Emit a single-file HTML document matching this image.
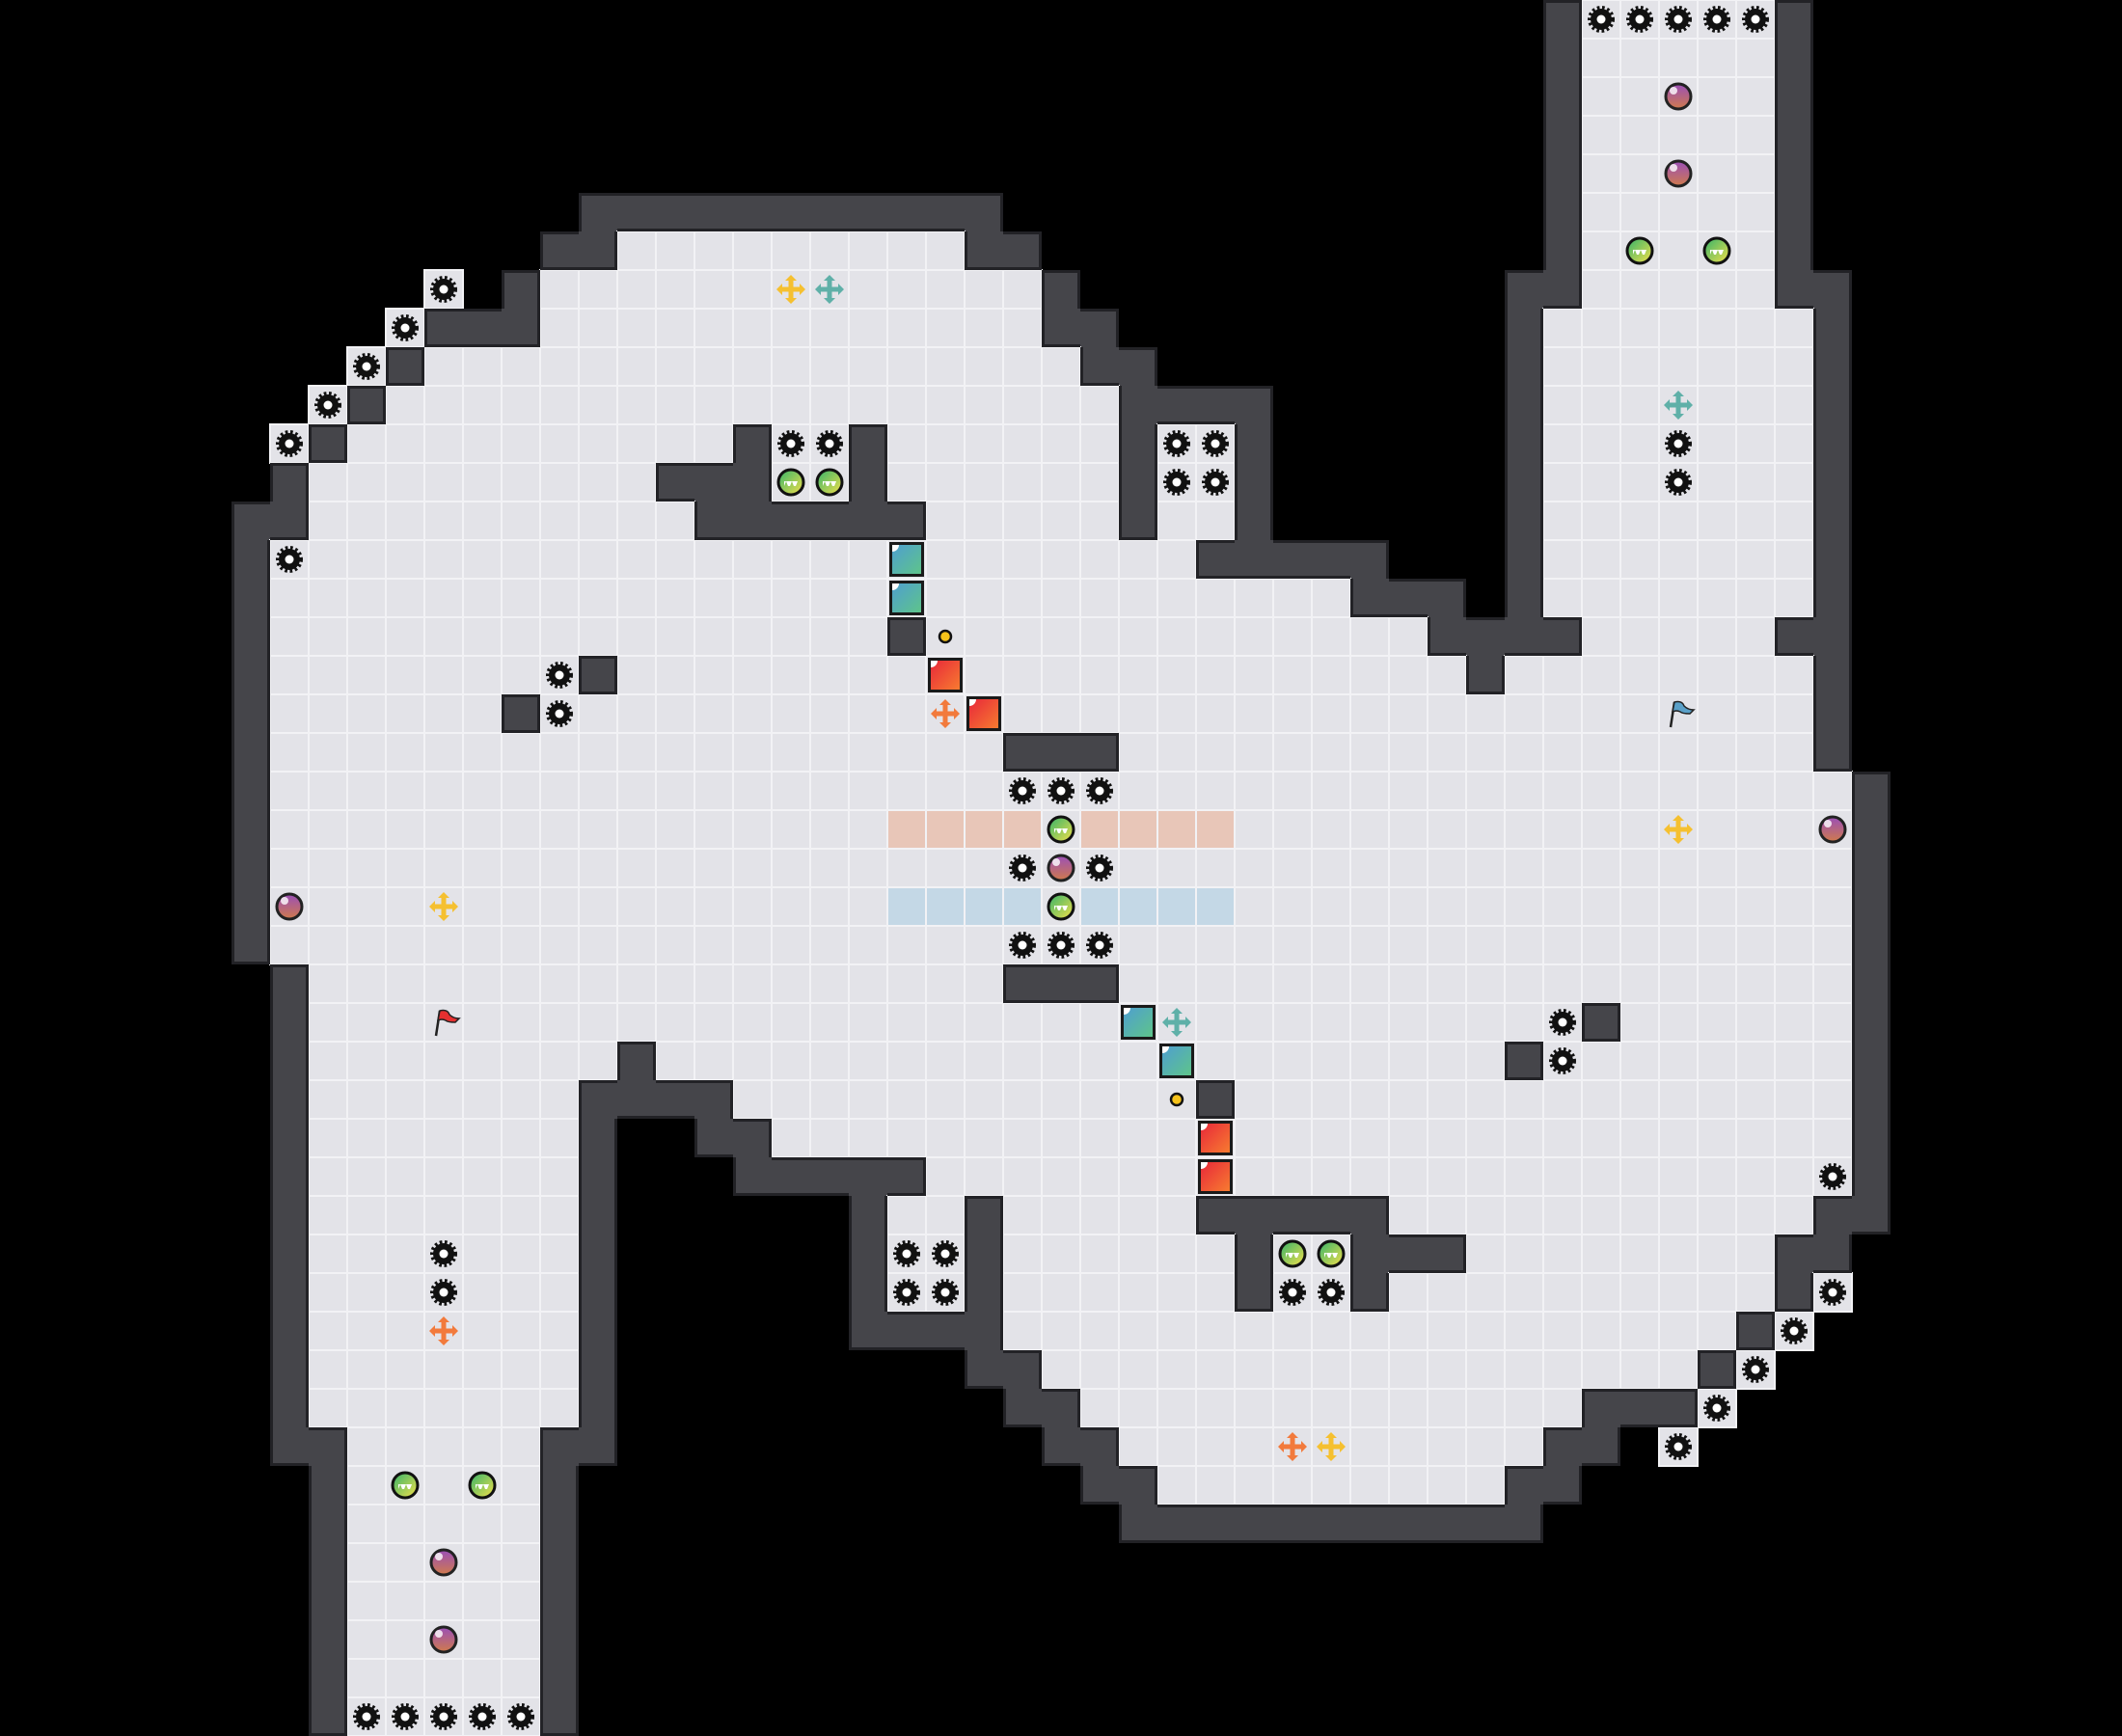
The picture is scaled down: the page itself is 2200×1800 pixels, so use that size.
<!DOCTYPE html>
<html><head><meta charset="utf-8"><style>
html,body{margin:0;padding:0;background:#000;width:2200px;height:1800px;overflow:hidden}
svg{display:block}
</style></head><body>
<svg id="s" width="2200" height="1800" xmlns="http://www.w3.org/2000/svg">
<defs>
<linearGradient id="tg" x1="0" y1="0" x2="1" y2="1"><stop offset="0" stop-color="#4f9fd0"/><stop offset="1" stop-color="#5ec48a"/></linearGradient>
<linearGradient id="rg" x1="0" y1="0" x2="1" y2="1"><stop offset="0" stop-color="#e8283a"/><stop offset="1" stop-color="#f77b30"/></linearGradient>
<linearGradient id="gg" x1="0" y1="0" x2="1" y2="1"><stop offset="0" stop-color="#33b36a"/><stop offset="1" stop-color="#f4e04a"/></linearGradient>
<linearGradient id="pg" x1="0" y1="0" x2="0" y2="1"><stop offset="0" stop-color="#9a4fb8"/><stop offset="1" stop-color="#d07a4c"/></linearGradient>
</defs>
<g id="g"></g>
</svg>
<script>
var C=40,W=55,H=45;
var F={0:[[41,45]],1:[[41,45]],2:[[41,45]],3:[[41,45]],4:[[41,45]],5:[[41,45]],
6:[[16,24],[41,45]],7:[[14,26],[41,45]],8:[[14,26],[40,46]],9:[[11,27],[40,46]],10:[[10,28],[40,46]],
11:[[9,28],[30,31],[40,46]],12:[[8,28],[30,31],[40,46]],13:[[8,28],[30,31],[40,46]],
14:[[7,30],[40,46]],15:[[7,34],[40,46]],16:[[7,36],[41,45]],17:[[7,37],[39,46]],
18:[[7,46]],19:[[7,46]],20:[[7,47]],21:[[7,47]],22:[[7,47]],23:[[7,47]],24:[[7,47]],
25:[[8,47]],26:[[8,47]],27:[[8,15],[17,47]],28:[[8,14],[19,47]],29:[[8,14],[20,47]],
30:[[8,14],[24,47]],31:[[8,14],[23,24],[26,46]],32:[[8,14],[23,24],[26,45]],33:[[8,14],[23,24],[26,45]],
34:[[8,14],[26,44]],35:[[8,14],[27,43]],36:[[8,14],[28,40]],37:[[9,13],[29,39]],38:[[9,13],[30,38]],
39:[[9,13]],40:[[9,13]],41:[[9,13]],42:[[9,13]],43:[[9,13]],44:[[9,13]]};
var m=[];for(var r=0;r<H;r++){m.push([]);for(var c=0;c<W;c++)m[r].push(0);}
for(var r in F)F[r].forEach(function(a){for(var c=a[0];c<=a[1];c++)m[r][c]=1;});
for(var r=0;r<H;r++)for(var c=0;c<W;c++){if(m[r][c]!=0)continue;
 for(var dr=-1;dr<=1;dr++)for(var dc=-1;dc<=1;dc++){var rr=r+dr,cc=c+dc;if(rr>=0&&rr<H&&cc>=0&&cc<W&&m[rr][cc]==1)m[r][c]=2;}}
m[19][48]=0;m[25][6]=0;m[6][13]=0;m[6][27]=0;
var walls=[[12,17],[12,18],[12,19],[11,19],[11,22],[12,22],[13,18],[13,19],[13,20],[13,21],[13,22],[13,23],
[16,23],[17,15],[18,13],[28,31],[26,41],[27,39],[19,26],[19,27],[19,28],[25,26],[25,27],[25,28],
[31,31],[31,32],[31,33],[31,34],[31,35],[32,32],[32,35],[32,36],[32,37],[33,32],[33,35],[17,38]];
walls.forEach(function(w){m[w[0]][w[1]]=2;});
var og=[[7,11],[8,10],[9,9],[10,8],[11,7],[33,47],[34,46],[35,45],[36,44],[37,43]];
og.forEach(function(w){m[w[0]][w[1]]=3;});
var s='';
for(var r=0;r<H;r++)for(var c=0;c<W;c++){var t=m[r][c],x=c*C,y=r*C;
 if(t==1||t==3)s+='<rect x="'+x+'" y="'+y+'" width="40" height="40" fill="#e3e3e8" stroke="#f2f2f5" stroke-width="2"/>';
 else if(t==2)s+='<rect x="'+x+'" y="'+y+'" width="40" height="40" fill="#45454a"/>';}
[23,24,25,26,28,29,30,31].forEach(function(c){s+='<rect x="'+(c*C+1)+'" y="'+(21*C+1)+'" width="38" height="38" fill="#e8c6b8"/>';
 s+='<rect x="'+(c*C+1)+'" y="'+(23*C+1)+'" width="38" height="38" fill="#c4d8e6"/>';});
for(var r=0;r<H;r++)for(var c=0;c<W;c++){if(m[r][c]!=2)continue;var x=c*C,y=r*C;
 function nw(rr,cc){return rr<0||rr>=H||cc<0||cc>=W||m[rr][cc]!=2;}
 if(nw(r-1,c))s+='<rect x="'+x+'" y="'+y+'" width="40" height="3" fill="#222226"/>';
 if(nw(r+1,c))s+='<rect x="'+x+'" y="'+(y+37)+'" width="40" height="3" fill="#222226"/>';
 if(nw(r,c-1))s+='<rect x="'+x+'" y="'+y+'" width="3" height="40" fill="#222226"/>';
 if(nw(r,c+1))s+='<rect x="'+(x+37)+'" y="'+y+'" width="3" height="40" fill="#222226"/>';}
function cx(c){return c*C+20;}
function gear(c,r){var x=cx(c),y=cx(r);return '<circle cx="'+x+'" cy="'+y+'" r="11" fill="#111"/><circle cx="'+x+'" cy="'+y+'" r="12" fill="none" stroke="#111" stroke-width="4" stroke-dasharray="2.6 2.6"/><circle cx="'+x+'" cy="'+y+'" r="4.5" fill="#fff"/>';}
function purple(c,r){var x=cx(c),y=cx(r);return '<circle cx="'+x+'" cy="'+y+'" r="13" fill="url(#pg)" stroke="#222" stroke-width="3"/><circle cx="'+(x-5)+'" cy="'+(y-6)+'" r="4" fill="#fff" opacity=".8"/>';}
function green(c,r){var x=cx(c),y=cx(r);return '<circle cx="'+x+'" cy="'+y+'" r="13" fill="url(#gg)" stroke="#111" stroke-width="3"/><path d="M'+(x-7)+' '+(y-1)+'h14l-2 5h-2l-2-5-2 5h-2l-2-5-2 5z" fill="#fff"/>';}
function cross(c,r,col){var x=cx(c),y=cx(r);return '<g fill="'+col+'"><rect x="'+(x-2.5)+'" y="'+(y-12)+'" width="5" height="24"/><rect x="'+(x-12)+'" y="'+(y-2.5)+'" width="24" height="5"/><path d="M'+x+' '+(y-15)+'l-6 6h12zM'+x+' '+(y+15)+'l-6-6h12zM'+(x-15)+' '+y+'l6-6v12zM'+(x+15)+' '+y+'l-6-6v12z"/></g>';}
function block(c,r,g){var x=c*C,y=r*C;return '<rect x="'+(x+2)+'" y="'+(y+2)+'" width="36" height="36" fill="#1a1a1a"/><rect x="'+(x+5)+'" y="'+(y+5)+'" width="30" height="30" fill="url(#'+g+')"/><path d="M'+(x+5)+' '+(y+5)+'h7a7 7 0 0 1-7 7z" fill="#fff"/>';}
function dot(c,r){return '<circle cx="'+cx(c)+'" cy="'+cx(r)+'" r="6" fill="#f5c21a" stroke="#111" stroke-width="2.5"/>';}
function flag(c,r,col){var x=cx(c),y=cx(r);return '<path d="M'+(x-8)+' '+(y+14)+'L'+(x-4)+' '+(y-12)+'" stroke="#222" stroke-width="2.5"/><path d="M'+(x-4)+' '+(y-12)+'q8-2 10 4q4 4 10 4l-4 4q-8 0-10-2q-4-2-8 0z" fill="'+col+'" stroke="#222" stroke-width="1.5"/>';}
var g=[[41,0],[42,0],[43,0],[44,0],[45,0],[11,7],[10,8],[9,9],[8,10],[7,11],[20,11],[21,11],[30,11],[31,11],[30,12],[31,12],
[43,11],[43,12],[7,14],[14,17],[14,18],[26,20],[27,20],[28,20],[26,22],[28,22],[26,24],[27,24],[28,24],[40,26],[40,27],[47,30],
[11,32],[11,33],[23,32],[24,32],[23,33],[24,33],[33,33],[34,33],[47,33],[46,34],[45,35],[44,36],[43,37],[9,44],[10,44],[11,44],[12,44],[13,44]];
g.forEach(function(p){s+=gear(p[0],p[1]);});
[[43,2],[43,4],[27,22],[47,21],[7,23],[11,40],[11,42]].forEach(function(p){s+=purple(p[0],p[1]);});
[[42,6],[44,6],[20,12],[21,12],[27,21],[27,23],[33,32],[34,32],[10,38],[12,38]].forEach(function(p){s+=green(p[0],p[1]);});
s+=cross(20,7,'#f5c030')+cross(21,7,'#5fb0a8')+cross(43,10,'#5fb0a8')+cross(24,18,'#f27a3c')+cross(43,21,'#f5c030')+cross(11,23,'#f5c030')+cross(30,26,'#5fb0a8')+cross(11,34,'#f27a3c')+cross(33,37,'#f27a3c')+cross(34,37,'#f5c030');
s+=block(23,14,'tg')+block(23,15,'tg')+block(24,17,'rg')+block(25,18,'rg')+block(29,26,'tg')+block(30,27,'tg')+block(31,29,'rg')+block(31,30,'rg');
s+=dot(24,16)+dot(30,28);
s+=flag(43,18,'#5aa0c8')+flag(11,26,'#e53030');
document.getElementById('g').innerHTML=s;
</script>
</body></html>
